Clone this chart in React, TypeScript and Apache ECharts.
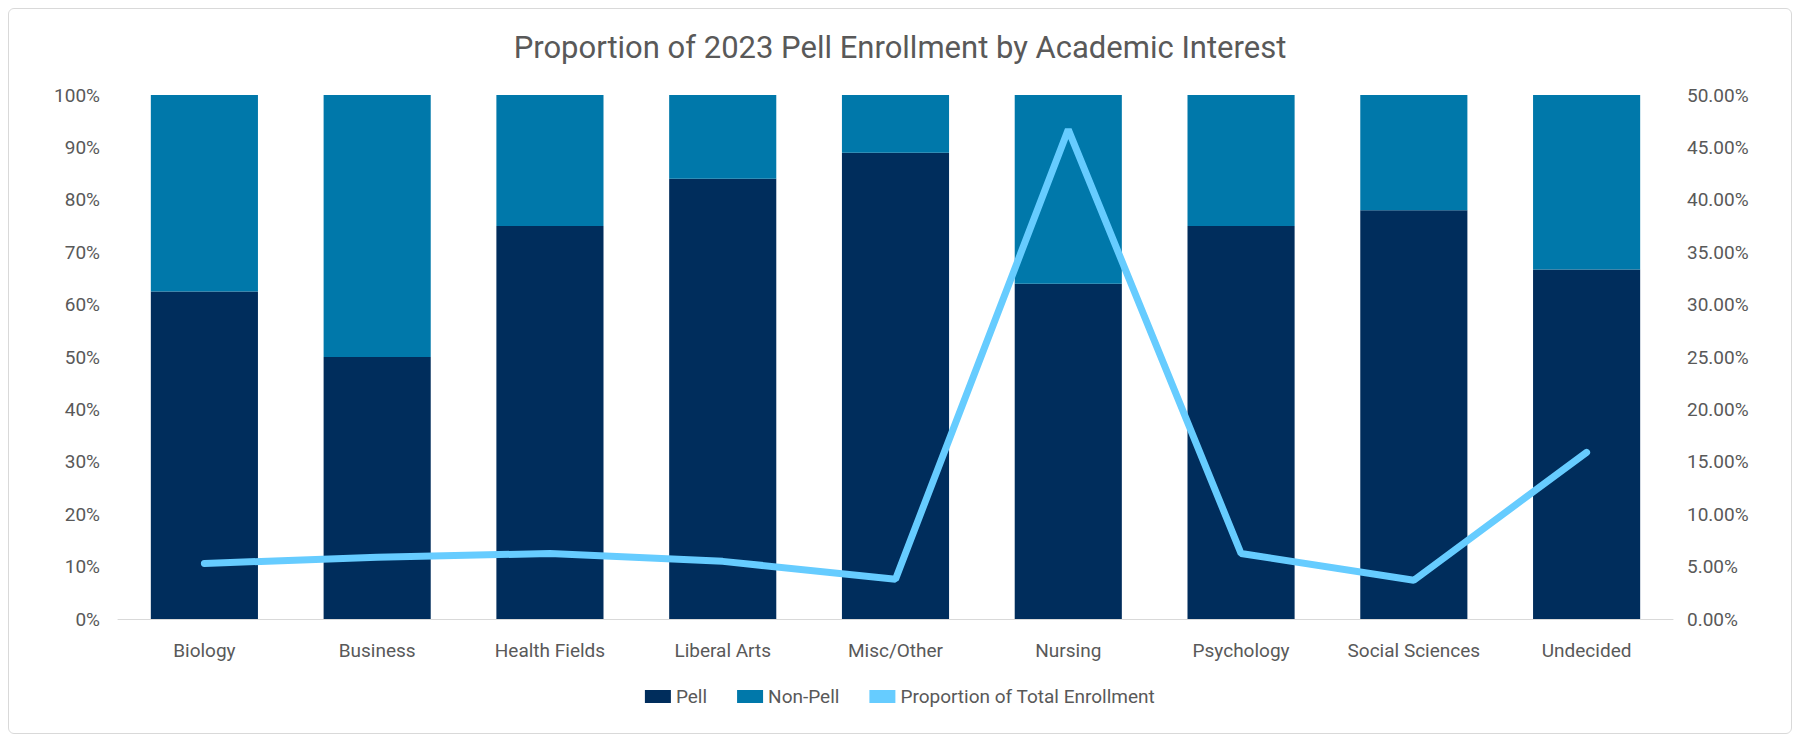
import React, { useEffect, useRef } from "react";
import * as echarts from "echarts";

const categories = ["Biology", "Business", "Health Fields", "Liberal Arts", "Misc/Other", "Nursing", "Psychology", "Social Sciences", "Undecided"];
const pell = [62.5, 50, 75, 84, 89, 64, 75, 78, 66.7];
const nonPell = pell.map((v) => +(100 - v).toFixed(1));
const proportion = [5.3, 5.9, 6.25, 5.5, 3.8, 46.7, 6.25, 3.7, 15.9];

export default function App() {
  const ref = useRef<HTMLDivElement>(null);
  useEffect(() => {
    const chart = echarts.init(ref.current!, null, { renderer: "svg" });
    const font = "Roboto";
    chart.setOption({
      animation: false,
      textStyle: { fontFamily: font },
      title: {
        text: "Proportion of 2023 Pell Enrollment by Academic Interest",
        left: "center", top: 18,
        textStyle: { fontFamily: font, fontSize: 31, fontWeight: "normal", color: "#595959" },
      },
      legend: {
        bottom: 22, itemWidth: 26, itemHeight: 13, itemGap: 30,
        textStyle: { fontFamily: font, fontSize: 19, color: "#595959" },
        data: [
          { name: "Pell", icon: "rect" },
          { name: "Non-Pell", icon: "rect" },
          { name: "Proportion of Total Enrollment", icon: "rect", itemStyle: { color: "#66CCFF" } },
        ],
      },
      grid: { left: 109, right: 118, top: 86, bottom: 114 },
      xAxis: {
        type: "category", data: categories,
        axisTick: { show: false },
        axisLine: { lineStyle: { color: "#D9D9D9" } },
        axisLabel: { fontSize: 19, color: "#595959", margin: 22 },
      },
      yAxis: [
        {
          type: "value", min: 0, max: 100, interval: 10,
          axisLabel: { formatter: "{value}%", fontSize: 19, color: "#595959", margin: 18 },
          splitLine: { show: false },
        },
        {
          type: "value", min: 0, max: 50, interval: 5,
          axisLabel: { formatter: (v: number) => v.toFixed(2) + "%", fontSize: 19, color: "#595959", margin: 14 },
          splitLine: { show: false },
        },
      ],
      series: [
        { name: "Pell", type: "bar", stack: "a", data: pell, barWidth: "62%", itemStyle: { color: "#002D5C" } },
        { name: "Non-Pell", type: "bar", stack: "a", data: nonPell, itemStyle: { color: "#0078AA" } },
        {
          name: "Proportion of Total Enrollment", type: "line", yAxisIndex: 1, data: proportion,
          symbol: "none", lineStyle: { width: 7, color: "#66CCFF", cap: "round" }, itemStyle: { color: "#66CCFF" },
        },
      ],
    });
    return () => chart.dispose();
  }, []);
  return (
    <div style={{ width: 1784, height: 726, border: "1px solid #D9D9D9", borderRadius: 6, boxSizing: "border-box", background: "#fff" }}>
      <div ref={ref} style={{ width: "100%", height: "100%" }} />
    </div>
  );
}
